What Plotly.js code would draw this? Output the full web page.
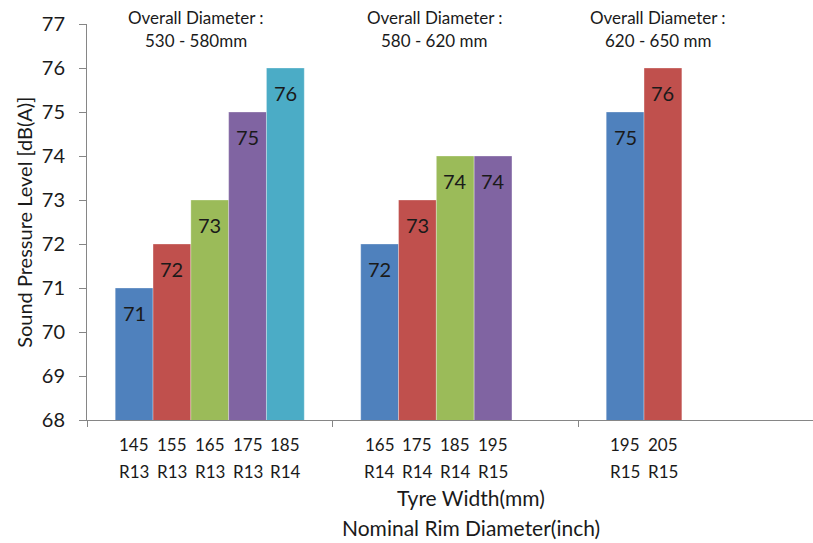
<!DOCTYPE html>
<html>
<head>
<meta charset="utf-8">
<script src="https://cdn.plot.ly/plotly-3.0.1.min.js"></script>
<style>
  html, body { margin: 0; padding: 0; background: #ffffff; }
  #chart { width: 813px; height: 543px; }
</style>
</head>
<body>
<div id="chart"></div>
<script>
// Tyre groups by overall diameter
const diameterRanges = ['530 - 580mm', '580 - 620 mm', '620 - 650 mm'];

// Tyre width (mm) and nominal rim diameter for each bar, per group
const tyreWidths = [
  ['145', '155', '165', '175', '185'],
  ['165', '175', '185', '195'],
  ['195', '205']
];
const rimDiameters = [
  ['R13', 'R13', 'R13', 'R13', 'R14'],
  ['R14', 'R14', 'R14', 'R15'],
  ['R15', 'R15']
];

// Sound pressure level, dB(A)
const soundLevels = [
  [71, 72, 73, 75, 76],
  [72, 73, 74, 74],
  [75, 76]
];

const slotColors = ['#4F81BD', '#C0504D', '#9BBB59', '#8064A2', '#4BACC6'];

const SLOTS = 5;
const slotWidth = 0.154;
const textColor = '#1a1a1a';
const fontFamily = 'Lato, "Open Sans", sans-serif';

// centre of slot s within group g on the numeric x axis
function slotCenter(g, s) {
  return g + (s - (SLOTS - 1) / 2) * slotWidth;
}

const traces = [];
const annotations = [];

for (let s = 0; s < SLOTS; s++) {
  const xs = [], ys = [];
  soundLevels.forEach((levels, g) => {
    if (levels[s] !== undefined) {
      xs.push(slotCenter(g, s));
      ys.push(levels[s]);
    }
  });
  traces.push({
    type: 'bar',
    x: xs,
    y: ys,
    width: slotWidth,
    marker: { color: slotColors[s], line: { color: 'rgba(255,255,255,0.5)', width: 0.6 } },
    hoverinfo: 'skip',
    showlegend: false
  });
}

// value labels and the two-row size labels under every bar
soundLevels.forEach((levels, g) => {
  levels.forEach((v, s) => {
    const x = slotCenter(g, s);
    annotations.push({
      x: x, y: v, xref: 'x', yref: 'y',
      text: String(v), showarrow: false,
      yanchor: 'middle', yshift: -25,
      font: { family: fontFamily, size: 20, color: textColor }
    });
    annotations.push({
      x: x, y: 0, xref: 'x', yref: 'paper',
      text: tyreWidths[g][s], showarrow: false,
      yanchor: 'middle', yshift: -24,
      font: { family: fontFamily, size: 17, color: textColor }
    });
    annotations.push({
      x: x, y: 0, xref: 'x', yref: 'paper',
      text: rimDiameters[g][s], showarrow: false,
      yanchor: 'middle', yshift: -51,
      font: { family: fontFamily, size: 17, color: textColor }
    });
  });
});

// group headings
const headingX = [-0.056, 0.917, 1.826];
diameterRanges.forEach((r, g) => {
  annotations.push({
    x: headingX[g], y: 1, xref: 'x', yref: 'paper',
    text: 'Overall Diameter :', showarrow: false,
    yanchor: 'middle', yshift: 7,
    font: { family: fontFamily, size: 17, color: textColor }
  });
  annotations.push({
    x: headingX[g], y: 1, xref: 'x', yref: 'paper',
    text: r, showarrow: false,
    yanchor: 'middle', yshift: -16,
    font: { family: fontFamily, size: 17, color: textColor }
  });
});

// axis titles
annotations.push({
  x: -0.087, y: 0.5, xref: 'paper', yref: 'paper',
  text: 'Sound Pressure Level [dB(A)]', showarrow: false, textangle: -90,
  xanchor: 'center', yanchor: 'middle',
  font: { family: fontFamily, size: 20, color: textColor }
});
annotations.push({
  x: 0.529, y: 0, xref: 'paper', yref: 'paper',
  text: 'Tyre Width(mm)', showarrow: false,
  yanchor: 'middle', yshift: -77,
  font: { family: fontFamily, size: 21, color: textColor }
});
annotations.push({
  x: 0.529, y: 0, xref: 'paper', yref: 'paper',
  text: 'Nominal Rim Diameter(inch)', showarrow: false,
  yanchor: 'middle', yshift: -107,
  font: { family: fontFamily, size: 21, color: textColor }
});

const layout = {
  width: 813,
  height: 543,
  margin: { l: 87, r: 0, t: 24, b: 122.5 },
  paper_bgcolor: '#ffffff',
  plot_bgcolor: '#ffffff',
  barmode: 'overlay',
  showlegend: false,
  xaxis: {
    range: [-0.5, -0.5 + 726 / 245.5],
    tickvals: [-0.5, 0.5, 1.5, 2.5],
    showticklabels: false,
    ticks: 'outside', ticklen: 6, tickcolor: '#868686', tickwidth: 1,
    showline: true, linecolor: '#868686', linewidth: 1,
    showgrid: false, zeroline: false, fixedrange: true
  },
  yaxis: {
    range: [68, 77],
    dtick: 1,
    ticks: 'outside', ticklen: 7, tickcolor: '#868686', tickwidth: 1,
    ticklabelstandoff: 10,
    showline: true, linecolor: '#868686', linewidth: 1,
    showgrid: false, zeroline: false, fixedrange: true,
    tickfont: { family: fontFamily, size: 20, color: textColor }
  },
  annotations: annotations
};

Plotly.newPlot('chart', traces, layout, { displayModeBar: false, staticPlot: true });
</script>
</body>
</html>
